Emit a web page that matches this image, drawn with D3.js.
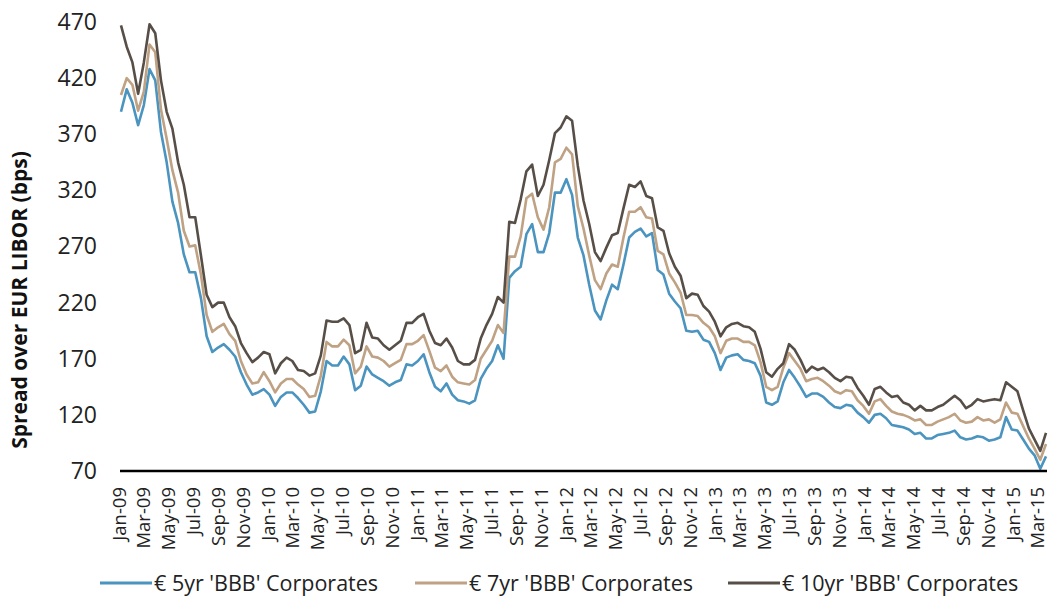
<!DOCTYPE html>
<html>
<head>
<meta charset="utf-8">
<script src="https://cdn.jsdelivr.net/npm/d3@7"></script>
<style>
  html, body { margin: 0; padding: 0; background: #fff; }
  svg { display: block; font-family: "Open Sans", "DejaVu Sans", sans-serif; }
</style>
</head>
<body>
<svg id="chart" width="1048" height="598"></svg>
<script>
// Fortnightly observations starting 1 Jan 2009
const startDate = new Date(2009, 0, 1);
const stepDays = 14;

// Spread over EUR LIBOR, bps
const bbb5 = [
  390,410,398,378,396,428,418,372,345,310,
  291,263,247,247,224,190,176,180,183,178,
  172,158,147,138,140,143,138,128,136,140,
  140,135,129,122,123,141,168,164,164,172,
  165,142,146,163,156,153,150,146,149,151,
  165,164,168,174,158,145,141,148,138,133,
  132,130,133,152,161,168,182,170,242,248,
  252,281,290,265,265,282,318,318,330,316,
  278,262,236,213,205,222,236,232,254,278,
  283,286,279,282,249,245,228,221,215,195,
  194,195,187,185,175,160,171,173,174,169,
  168,166,155,131,129,132,149,160,153,145,
  136,139,139,136,131,127,126,129,128,122,
  118,113,120,121,117,111,110,109,107,103,
  104,99,99,102,103,104,106,100,98,99,
  101,100,97,98,100,118,107,106,98,90,
  84,72,83
];
const bbb7 = [
  405,420,414,391,408,450,443,392,366,338,
  318,284,270,271,245,209,194,198,201,192,
  186,168,156,148,149,158,150,140,148,152,
  152,147,143,136,137,155,185,181,181,187,
  182,157,163,181,172,171,168,163,166,169,
  183,183,186,191,177,162,159,164,154,149,
  148,147,151,170,178,186,200,193,261,261,
  279,313,317,296,285,305,345,348,358,352,
  306,286,262,240,232,246,254,252,278,301,
  301,305,296,295,266,263,246,238,229,209,
  209,208,202,198,190,175,186,188,188,185,
  185,182,167,145,142,145,162,175,168,161,
  150,152,153,150,146,141,139,142,141,133,
  128,121,132,134,128,123,121,120,118,115,
  116,111,111,114,116,118,121,115,113,114,
  118,115,116,113,116,131,122,121,110,99,
  90,80,94
];
const bbb10 = [
  467,448,434,406,434,468,460,418,390,375,
  345,325,296,296,262,227,216,220,220,207,
  199,184,175,167,171,176,174,157,166,171,
  168,160,159,155,157,173,204,203,203,206,
  200,175,178,202,189,188,182,178,182,186,
  202,202,207,210,195,184,182,188,180,168,
  165,165,169,188,200,210,225,220,292,291,
  312,337,343,315,325,347,371,376,386,382,
  342,311,290,265,257,269,280,282,304,325,
  323,328,315,313,287,284,264,252,244,224,
  228,227,217,212,203,190,198,201,202,199,
  198,194,179,158,154,161,166,183,178,169,
  158,163,160,162,158,153,150,154,153,144,
  137,129,143,145,140,136,137,131,129,124,
  128,124,124,127,129,133,137,133,126,129,
  134,132,133,134,133,149,145,141,124,108,
  98,88,104
];

const yTicks = [70, 120, 170, 220, 270, 320, 370, 420, 470];
const seriesNames = ["€ 5yr 'BBB' Corporates", "€ 7yr 'BBB' Corporates", "€ 10yr 'BBB' Corporates"];
const seriesValues = [bbb5, bbb7, bbb10];
const seriesColors = ["#4a94bf", "#bfa183", "#574f47"];
const yTitle = "Spread over EUR LIBOR (bps)";

const dates = bbb5.map((_, i) => d3.timeDay.offset(startDate, i * stepDays));

const svg = d3.select("#chart");

const x = d3.scaleTime()
  .domain([dates[0], dates[dates.length - 1]])
  .range([121, 1046]);
const y = d3.scaleLinear().domain([70, 470]).range([471, 22]);

// Y axis labels (no axis line)
const yAxis = svg.append("g")
  .attr("transform", "translate(97,0)")
  .call(d3.axisLeft(y).tickValues(yTicks).tickSize(0).tickPadding(0));
yAxis.select(".domain").remove();
yAxis.selectAll("text")
  .attr("font-family", "'Open Sans', sans-serif")
  .attr("font-size", 23)
  .attr("font-weight", 400)
  .attr("fill", "#222");

// Y axis title
svg.append("text")
  .attr("transform", "translate(27,300) rotate(-90)")
  .attr("text-anchor", "middle")
  .attr("font-size", 21)
  .attr("font-weight", 700)
  .attr("fill", "#111")
  .text(yTitle);

// Series lines (5yr underneath, 10yr on top)
const line = d3.line()
  .x((d, i) => x(dates[i]))
  .y(d => y(d));

svg.append("g")
  .selectAll("path")
  .data(seriesValues)
  .join("path")
  .attr("d", d => line(d))
  .attr("fill", "none")
  .attr("stroke", (d, i) => seriesColors[i])
  .attr("stroke-width", 2.6)
  .attr("stroke-linejoin", "round");

// X axis: baseline at 70 with bimonthly rotated labels
const xTicks = d3.timeMonth.every(2).range(new Date(2009, 0, 1), new Date(2015, 3, 1));
const xAxis = svg.append("g")
  .attr("transform", `translate(0,${y(70)})`)
  .call(d3.axisBottom(x).tickValues(xTicks).tickSize(0).tickSizeOuter(0)
    .tickFormat(d3.timeFormat("%b-%y")));
xAxis.select(".domain")
  .attr("stroke", "#000")
  .attr("stroke-width", 2.6)
  .attr("d", "M120,0H1047");
xAxis.selectAll("text")
  .attr("font-family", "'Open Sans', sans-serif")
  .attr("font-size", 18.5)
  .attr("fill", "#222")
  .attr("text-anchor", "end")
  .attr("y", 0)
  .attr("dy", "0.35em")
  .attr("transform", "translate(-2,16) rotate(-90)");

// Legend
const legendX = [100, 415, 728];
const legend = svg.append("g").attr("transform", "translate(0,583)");
const item = legend.selectAll("g")
  .data(seriesNames)
  .join("g")
  .attr("transform", (d, i) => `translate(${legendX[i]},0)`);
item.append("line")
  .attr("x1", 0).attr("x2", 52)
  .attr("y1", 0).attr("y2", 0)
  .attr("stroke", (d, i) => seriesColors[i])
  .attr("stroke-width", 3);
item.append("text")
  .attr("x", 54)
  .attr("dy", "0.35em")
  .attr("font-size", 21.5)
  .attr("fill", "#222")
  .text(d => d);
</script>
</body>
</html>
